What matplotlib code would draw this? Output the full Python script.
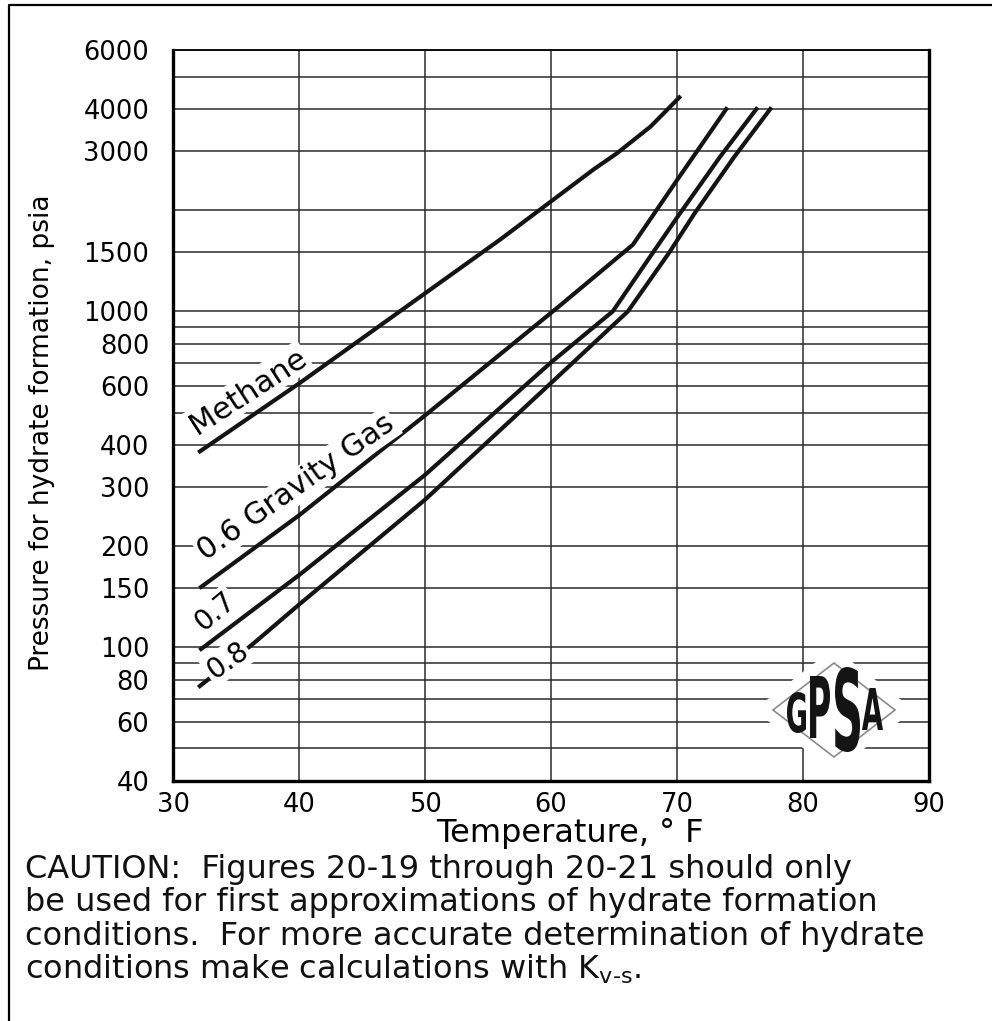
import matplotlib.pyplot as plt
from matplotlib.lines import Line2D
from matplotlib.patches import Polygon, PathPatch
from matplotlib.textpath import TextPath
from matplotlib.font_manager import FontProperties
from matplotlib.transforms import Affine2D

plt.rcParams['font.family'] = ['DejaVu Sans']
plt.rcParams['mathtext.fontset'] = 'dejavusans'

# ----------------------------------------
# Hydrate formation curves: temperature (F) vs pressure (psia)
# ----------------------------------------
methane_t = [32, 40, 48, 56, 63.4, 65.2, 67.9, 70.3]
methane_p = [380, 610, 1000, 1640, 2650, 2950, 3550, 4380]

gas06_t = [32.1, 40, 50, 60.7, 66.5, 70.1, 74.0]
gas06_p = [150, 247, 490, 1040, 1580, 2490, 4050]

gas07_t = [32.1, 40, 50, 60, 64.9, 68.0, 70.2, 73.4, 76.4]
gas07_p = [98, 164, 326, 705, 1000, 1480, 1950, 2880, 4050]

gas08_t = [32, 36.3, 40, 50, 60, 66.1, 69.4, 71.4, 74.5, 77.5]
gas08_p = [76, 102, 134, 275, 612, 1000, 1500, 1960, 2870, 4050]

x_ticks = [30, 40, 50, 60, 70, 80, 90]
y_ticks = [40, 60, 80, 100, 150, 200, 300, 400, 600, 800, 1000, 1500, 3000, 4000, 6000]
y_grid_extra = [50, 70, 90, 500, 700, 900, 2000, 5000]

caution_lines = [
    "CAUTION:  Figures 20-19 through 20-21 should only",
    "be used for first approximations of hydrate formation",
    "conditions.  For more accurate determination of hydrate",
    r"conditions make calculations with K$_{\mathrm{v\text{-}s}}$.",
]

fig = plt.figure(figsize=(9.92, 10.21), dpi=100)
ax = fig.add_axes([0.1744, 0.2351, 0.7621, 0.7159])

ax.set_yscale('log')
ax.set_xlim(30, 90)
ax.set_ylim(40, 6000)

ax.set_xticks(x_ticks)
ax.set_xticklabels([str(v) for v in x_ticks])
ax.set_yticks(y_ticks)
ax.set_yticklabels([str(v) for v in y_ticks])
ax.set_yticks(y_grid_extra, minor=True)
ax.yaxis.set_minor_formatter(plt.NullFormatter())

ax.tick_params(which='both', length=0)
ax.tick_params(axis='y', pad=17, labelsize=18.5)
ax.tick_params(axis='x', pad=8, labelsize=18.5)

ax.grid(True, which='both', color='#2b2b2b', linewidth=1.1, zorder=1)
ax.set_axisbelow(True)

for side in ['left', 'bottom', 'right']:
    ax.spines[side].set_linewidth(2.4)
ax.spines['top'].set_linewidth(1.3)

# curves
curve_kw = dict(color='#141414', linewidth=3.0, solid_capstyle='butt', zorder=3)
ax.plot(methane_t, methane_p, **curve_kw)
ax.plot(gas06_t, gas06_p, **curve_kw)
ax.plot(gas07_t, gas07_p, **curve_kw)
ax.plot(gas08_t, gas08_p, **curve_kw)

# curve labels (white boxes break the grid behind them)
lab_box = dict(facecolor='white', edgecolor='none', pad=1.5)
ax.text(35.95, 579, "Methane", rotation=33, fontsize=22, ha='center', va='center',
        bbox=lab_box, zorder=5)
ax.text(39.8, 300, "0.6 Gravity Gas", rotation=35, fontsize=21.5, ha='center', va='center',
        bbox=lab_box, zorder=5)
ax.text(33.3, 128, "0.7", rotation=40, fontsize=20, ha='center', va='center',
        bbox=lab_box, zorder=5)
ax.text(34.3, 91, "0.8", rotation=35, fontsize=20, ha='center', va='center',
        bbox=lab_box, zorder=5)

# GPSA diamond logo
cx, cy = 0.8743, 0.0971
ax.add_patch(Polygon([(cx - 0.106, cy), (cx, cy + 0.085), (cx + 0.106, cy), (cx, cy - 0.085)],
                     closed=True, transform=ax.transAxes, facecolor='white',
                     edgecolor='none', zorder=4))
ax.add_patch(Polygon([(cx - 0.0807, cy), (cx, cy + 0.0643), (cx + 0.0807, cy), (cx, cy - 0.0643)],
                     closed=True, transform=ax.transAxes, facecolor='white',
                     edgecolor='#8a8a8a', linewidth=1.2, zorder=4))

logo_font = FontProperties(family='DejaVu Sans', weight='bold')


def put_letter(ch, x0, x1, y0, y1):
    # fit one glyph into a pixel box (x0..x1, y0..y1 measured from the top)
    path = TextPath((0, 0), ch, size=10, prop=logo_font)
    ext = path.get_extents()
    W, H = 992.0, 1021.0
    fx0, fx1 = x0 / W, x1 / W
    fy0, fy1 = 1 - y1 / H, 1 - y0 / H
    tr = (Affine2D().translate(-ext.x0, -ext.y0)
          .scale((fx1 - fx0) / ext.width, (fy1 - fy0) / ext.height)
          .translate(fx0, fy0))
    fig.add_artist(PathPatch(tr.transform_path(path), transform=fig.transFigure,
                             facecolor='#141414', edgecolor='none', zorder=6))


put_letter('G', 787, 806, 692, 733)
put_letter('P', 810, 830, 676, 738)
put_letter('S', 835, 860, 667, 752)
put_letter('A', 862, 883, 688, 730)

# axis titles
fig.text(42 / 992, 1 - 433 / 1021, "Pressure for hydrate formation, psia", rotation=90,
         fontsize=19, ha='center', va='center')
fig.text(570 / 992, 1 - 833 / 1021, "Temperature, \u00b0 F", fontsize=23,
         ha='center', va='center')

# caution note under the chart
for i, line in enumerate(caution_lines):
    fig.text(25 / 992, 1 - (869 + 33.5 * i) / 1021, line, fontsize=23,
             ha='left', va='center', color='#111111')

# page frame on the left and top
fig.add_artist(Line2D([9 / 992, 9 / 992, 1.0], [0.0, 1 - 5 / 1021, 1 - 5 / 1021],
                      transform=fig.transFigure, color='black', linewidth=1.6))

fig.savefig('out.png', dpi=100)
